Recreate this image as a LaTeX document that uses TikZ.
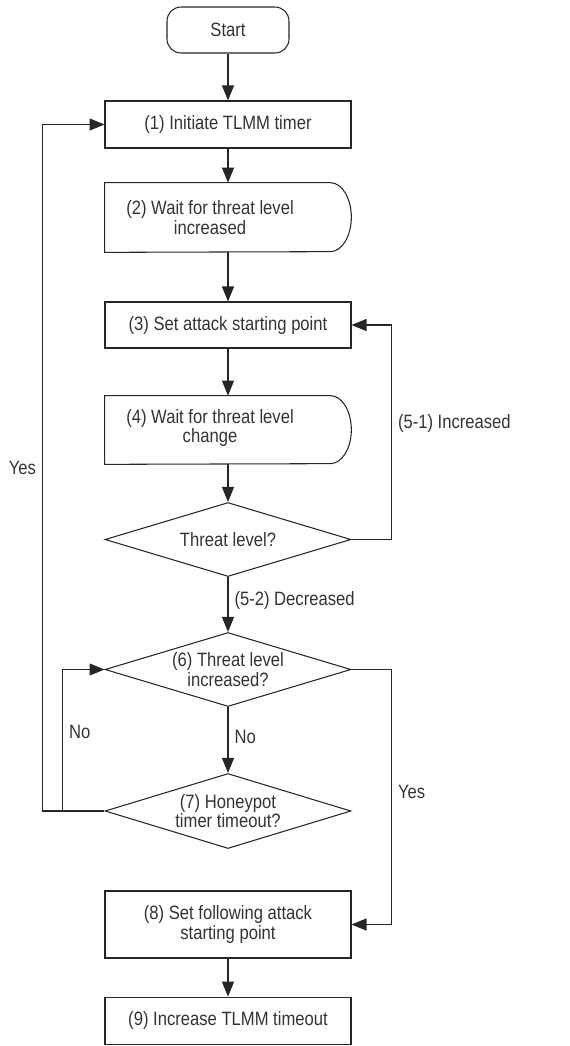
\documentclass[tikz,border=0pt]{standalone}
\usepackage{fontspec}
\setmainfont{Liberation Sans}[FakeStretch=0.86]
\usepackage{tikz}
\usetikzlibrary{
    shapes.geometric,
    arrows.meta,
    positioning,
    calc
}

\begin{document}
\begin{tikzpicture}[
    x=0.02cm, y=-0.02cm,
    every text node part/.style={align=center},
    every node/.style={font=\fontsize{11}{11}\selectfont, text=black!80},
    outline/.style={draw=black!85, line width=0.6pt},
    terminal/.style={outline, fill=white, rounded corners=0.28cm, minimum width=2.44cm, minimum height=0.92cm},
    process/.style={outline, fill=white, minimum width=4.92cm, minimum height=0.94cm},
    waitbox/.style={minimum width=4.92cm, minimum height=1.38cm, inner sep=0pt},
    decision/.style={outline, fill=white, diamond, aspect=3.3, inner sep=0pt, minimum width=4.92cm, minimum height=1.48cm},
    flow/.style={draw=black!85, line width=0.6pt, -{Triangle[length=0.3cm, width=0.24cm]}},
    edgelabel/.style={inner sep=0.12cm}
]
\useasboundingbox (0,0) rectangle (570,1046);

% Start
\node[terminal] (start) at (228,30) {Start};

% 1. Initiate TLMM timer
\node[process] (init) at (228,124.5) {(1) Initiate TLMM timer};

% 2. Wait for increase
\node[waitbox] (waitinc) at (228,217.5) {};
\draw[outline] (waitinc.south west) -- (waitinc.north west) -- ([xshift=-0.42cm]waitinc.north east)
    arc[start angle=90, end angle=-90, x radius=0.42cm, y radius=0.69cm] -- cycle;
\node at ([xshift=-0.36cm]waitinc.center) {(2) Wait for threat level\\increased};

% 3. Set attack starting point
\node[process, minimum height=0.92cm] (setstart) at (228,325) {(3) Set attack starting point};

% 4. Wait for change
\node[waitbox, minimum height=1.36cm] (waitchg) at (228,430) {};
\draw[outline] (waitchg.south west) -- (waitchg.north west) -- ([xshift=-0.42cm]waitchg.north east)
    arc[start angle=90, end angle=-90, x radius=0.42cm, y radius=0.68cm] -- cycle;
\node at ([xshift=-0.36cm, yshift=0.04cm]waitchg.center) {(4) Wait for threat level\\change};

% 5. Threat level?
\node[decision] (level) at (228,539.5) {Threat level?};

% 6. Threat level increased?
\node[decision] (again) at (228,669.5) {(6) Threat level\\increased?};

% 7. Honeypot timer timeout?
\node[decision, minimum height=1.5cm] (timeout) at (228,811) {(7) Honeypot\\timer timeout?};

% 8. Set following attack starting point
\node[process, minimum height=1.34cm] (setnext) at (228,924.5) {(8) Set following attack\\starting point};

% 9. Increase TLMM timeout
\node[process] (incr) at (228,1020.7) {(9) Increase TLMM timeout};

% Main flow
\draw[flow] (start) -- (init);
\draw[flow] (init) -- (waitinc);
\draw[flow] (waitinc) -- (setstart);
\draw[flow] (setstart) -- (waitchg);
\draw[flow] (waitchg) -- (level);
\draw[flow] (level) -- node[right, edgelabel, pos=0.42] {(5-2) Decreased} (again);
\draw[flow] (again) -- node[right, edgelabel, pos=0.45] {No} (timeout);
\draw[flow] (setnext) -- (incr);

% Loops
\draw[flow] (level.east) -- ++(0.8cm,0) |- node[right, edgelabel, pos=0.27] {(5-1) Increased} (setstart.east);
\draw[flow] (again.east) -- ++(0.8cm,0) |- node[right, edgelabel, pos=0.24] {Yes} (setnext.east);
\draw[flow] (timeout.west) -- ++(-0.84cm,0) |- node[right, edgelabel, pos=0.28] {No} (again.west);
\draw[flow] (timeout.west) -- ++(-1.24cm,0) |- node[left, edgelabel, pos=0.25] {Yes} (init.west);

\end{tikzpicture}
\end{document}
